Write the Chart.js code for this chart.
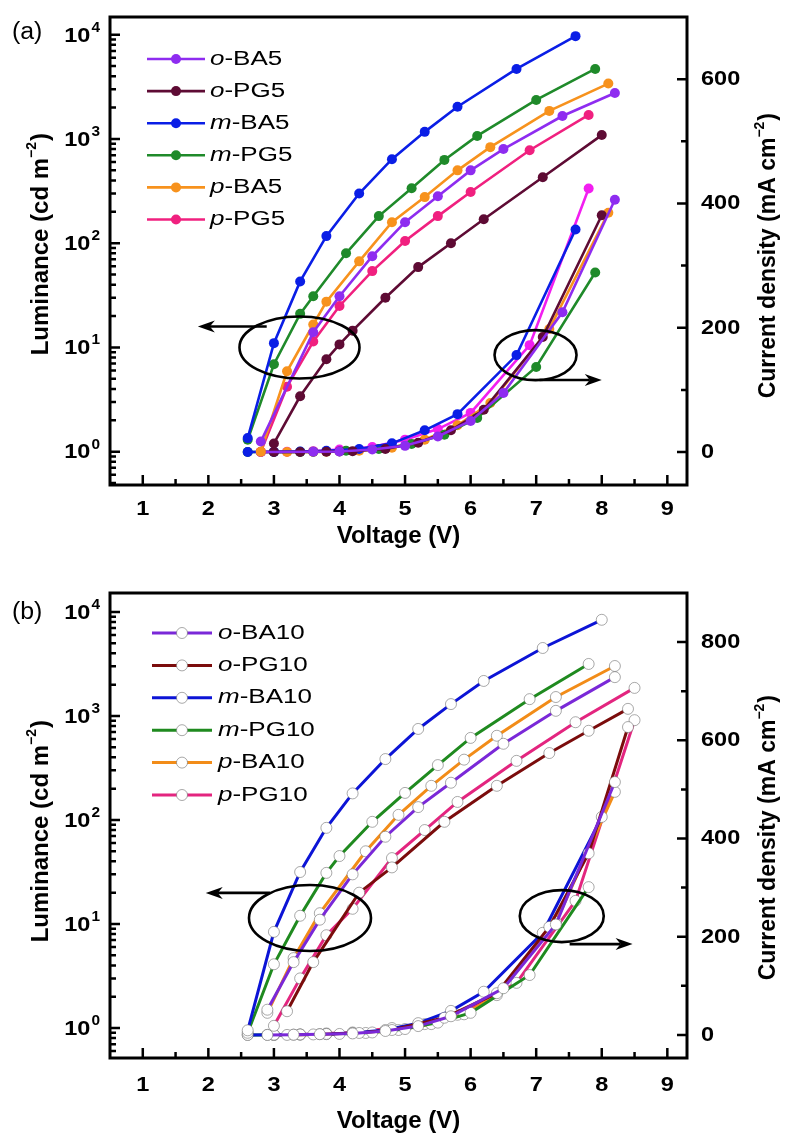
<!DOCTYPE html>
<html>
<head>
<meta charset="utf-8">
<script src="https://cdn.jsdelivr.net/npm/chart.js@4.4.1/dist/chart.umd.min.js"></script>
<style>
  body { margin: 0; background: #fff; }
  #wrap { position: relative; width: 788px; height: 1135px; }
  canvas { position: absolute; left: 0; }
  #chartA { top: 0; }
  #chartB { top: 567px; }
</style>
</head>
<body>
<div id="wrap">
  <canvas id="chartA" width="788" height="567"></canvas>
  <canvas id="chartB" width="788" height="568"></canvas>
</div>
<script>

// PANEL (a) DATA : voltage (V), luminance (cd m-2), current density (mA cm-2)

const namesA = ["o-BA5", "o-PG5", "m-BA5", "m-PG5", "p-BA5", "p-PG5"];

const voltA_oBA5 = [2.8, 3.6, 4.0, 4.5, 5.0, 5.5, 6.0, 6.5, 7.4, 8.2];
const lumA_oBA5  = [1.25, 14, 31, 75, 159, 282, 500, 800, 1660, 2760];
const curA_oBA5  = [0, 0.5, 1, 4, 10, 25, 50, 95, 225, 406];

const voltA_oPG5 = [3.0, 3.4, 3.8, 4.0, 4.2, 4.7, 5.2, 5.7, 6.2, 7.1, 8.0];
const lumA_oPG5  = [1.2, 3.4, 7.7, 10.7, 14.5, 30, 59, 100, 170, 430, 1090];
const curA_oPG5  = [0, 0, 0.5, 1, 1.5, 5, 15, 35, 68, 185, 381];

const voltA_mBA5 = [2.6, 3.0, 3.4, 3.8, 4.3, 4.8, 5.3, 5.8, 6.7, 7.6];
const lumA_mBA5  = [1.35, 11, 43, 117, 300, 640, 1170, 2040, 4700, 9700];
const curA_mBA5  = [0, 0.3, 0.8, 2, 5, 14, 35, 61, 156, 358];

const voltA_mPG5 = [2.6, 3.0, 3.4, 3.6, 4.1, 4.6, 5.1, 5.6, 6.1, 7.0, 7.9];
const lumA_mPG5  = [1.3, 6.9, 21, 31, 80, 182, 337, 630, 1070, 2370, 4700];
const curA_mPG5  = [0, 0, 0.3, 0.5, 2, 5, 13, 28, 55, 137, 289];

const voltA_pBA5 = [2.8, 3.2, 3.6, 3.8, 4.3, 4.8, 5.3, 5.8, 6.3, 7.2, 8.1];
const lumA_pBA5  = [1.0, 5.9, 16.6, 27.5, 67, 159, 277, 500, 835, 1860, 3400];
const curA_pBA5  = [0, 0, 0.3, 0.5, 2, 7, 20, 43, 79, 198, 385];

const voltA_pPG5 = [2.8, 3.2, 3.6, 4.0, 4.5, 5.0, 5.5, 6.0, 6.9, 7.8];
const lumA_pPG5  = [1.0, 4.2, 11.4, 25, 54, 105, 182, 310, 780, 1700];
const curA_pPG5  = [0, 0.5, 1.5, 4, 8, 20, 37, 63, 172, 424];


// PANEL (b) DATA

const namesB = ["o-BA10", "o-PG10", "m-BA10", "m-PG10", "p-BA10", "p-PG10"];

const voltB_oBA10 = [2.9, 3.3, 3.7, 4.2, 4.7, 5.2, 5.7, 6.5, 7.3, 8.2];
const lumB_oBA10  = [1.5, 4.3, 11, 30, 69, 133, 228, 540, 1120, 2360];
const curB_oBA10  = [0, 0.5, 1.5, 3, 8, 18, 38, 95, 225, 515];

const voltB_oPG10 = [3.2, 3.6, 4.3, 4.8, 5.6, 6.4, 7.2, 7.8, 8.4];
const lumB_oPG10  = [1.45, 4.3, 20, 35, 96, 213, 440, 720, 1170];
const curB_oPG10  = [0, 1, 4, 10, 35, 85, 220, 370, 627];

const voltB_mBA10 = [2.6, 3.0, 3.4, 3.8, 4.2, 4.7, 5.2, 5.7, 6.2, 7.1, 8.0];
const lumB_mBA10  = [0.95, 8.4, 31.6, 84, 180, 385, 750, 1300, 2170, 4500, 8400];
const curB_mBA10  = [0, 0.5, 1, 2, 4, 10, 24, 49, 88, 208, 444];

const voltB_mPG10 = [2.6, 3.0, 3.4, 3.8, 4.0, 4.5, 5.0, 5.5, 6.0, 6.9, 7.8];
const lumB_mPG10  = [0.9, 4.1, 12, 31, 45, 96, 182, 337, 615, 1450, 3160];
const curB_mPG10  = [0, 0, 0.5, 1.5, 2, 5, 12, 25, 45, 122, 301];

const voltB_pBA10 = [2.9, 3.3, 3.7, 4.4, 4.9, 5.4, 5.9, 6.4, 7.3, 8.2];
const lumB_pBA10  = [1.4, 4.7, 12.7, 50, 112, 213, 380, 645, 1520, 3020];
const curB_pBA10  = [0, 0.5, 1.5, 4, 10, 22, 42, 81, 230, 495];

const voltB_pPG10 = [3.0, 3.4, 3.8, 4.2, 4.8, 5.3, 5.8, 6.7, 7.6, 8.5];
const lumB_pPG10  = [1.05, 3.0, 7.8, 14, 43, 80, 149, 370, 870, 1860];
const curB_pPG10  = [0, 1, 3, 5, 14, 22, 41, 106, 273, 641];


// TICKS

const xMajor = [1, 2, 3, 4, 5, 6, 7, 8, 9];
const xMinor = [1.5, 2.5, 3.5, 4.5, 5.5, 6.5, 7.5, 8.5];
const lumExponents = [0, 1, 2, 3, 4];
const curMajorA = [0, 200, 400, 600];
const curMinorA = [100, 300, 500];
const curMajorB = [0, 200, 400, 600, 800];
const curMinorB = [100, 300, 500, 700];


// COLOURS

const lumColorsA = ["#8e2cf0", "#5e0b34", "#0a1ee6", "#1f8a2a", "#f7921d", "#f0207f"];
const curColorsA = ["#8e2cf0", "#5e0b34", "#0a1ee6", "#1f8a2a", "#f7921d", "#f21ef0"];
const colorsB    = ["#7a28d8", "#7b0c0c", "#0c14d6", "#1f8a1f", "#f28c18", "#e3257f"];

const FONT = "Arial, 'Liberation Sans', sans-serif";


// PANEL SETTINGS

const panels = {

  chartA: {
    tag: "(a)", names: namesA,
    volts: [voltA_oBA5, voltA_oPG5, voltA_mBA5, voltA_mPG5, voltA_pBA5, voltA_pPG5],
    lums:  [lumA_oBA5, lumA_oPG5, lumA_mBA5, lumA_mPG5, lumA_pBA5, lumA_pPG5],
    curs:  [curA_oBA5, curA_oPG5, curA_mBA5, curA_mPG5, curA_pBA5, curA_pPG5],
    lumColors: lumColorsA, curColors: curColorsA, open: false,
    lumMin: 0.479, lumMax: 14800, curMin: -53, curMax: 700,
    curMajor: curMajorA, curMinor: curMinorA,
    padTop: 17, xAxisH: 82,
    tagY: 33, xTickDy: 24, xTitleDy: 51,
    leftTitleEnd: 133, rightTitleEnd: 113,
    legend: { x1: 147, x2: 205, mx: 176, tx: 210, y0: 59, dy: 32.1 },
    ellipses: [
      { axis: "yL", x: 3.39, y: 10, rx: 60, ry: 31, ax1: 2.89, ax2: 1.84, ay: 15.9 },
      { axis: "yR", x: 6.99, y: 156, rx: 41, ry: 25, ax1: 7.05, ax2: 8.0, ay: 116 }
    ]
  },

  chartB: {
    tag: "(b)", names: namesB,
    volts: [voltB_oBA10, voltB_oPG10, voltB_mBA10, voltB_mPG10, voltB_pBA10, voltB_pPG10],
    lums:  [lumB_oBA10, lumB_oPG10, lumB_mBA10, lumB_mPG10, lumB_pBA10, lumB_pPG10],
    curs:  [curB_oBA10, curB_oPG10, curB_mBA10, curB_mPG10, curB_pBA10, curB_pPG10],
    lumColors: colorsB, curColors: colorsB, open: true,
    lumMin: 0.515, lumMax: 15200, curMin: -47, curMax: 900,
    curMajor: curMajorB, curMinor: curMinorB,
    padTop: 26, xAxisH: 77,
    tagY: 46, xTickDy: 27, xTitleDy: 63,
    leftTitleEnd: 153, rightTitleEnd: 128,
    legend: { x1: 152, x2: 212, mx: 182, tx: 218, y0: 66, dy: 32.4 },
    ellipses: [
      { axis: "yL", x: 3.55, y: 11.4, rx: 61, ry: 33, ax1: 2.94, ax2: 1.96, ay: 19.9 },
      { axis: "yR", x: 7.39, y: 242, rx: 42, ry: 26, ax1: 7.51, ax2: 8.47, ay: 185 }
    ]
  }

};


// HELPERS

function stretchText(ctx, text, x, y, sx, align) {
  const w = ctx.measureText(text).width * sx;
  let left = x;
  if (align === "center") left = x - w / 2;
  if (align === "right") left = x - w;
  ctx.save();
  ctx.translate(left, y);
  ctx.scale(sx, 1);
  ctx.textAlign = "left";
  ctx.fillText(text, 0, 0);
  ctx.restore();
  return w;
}

function markerStyle(color, open) {
  if (open) {
    return {
      pointRadius: 5.5,
      pointBackgroundColor: "#ffffff",
      pointBorderColor: "rgba(110,110,110,0.75)",
      pointBorderWidth: 0.8,
      borderWidth: 3
    };
  }
  return {
    pointRadius: 5,
    pointBackgroundColor: color,
    pointBorderWidth: 0,
    borderWidth: 2.6
  };
}

function buildDatasets(p) {
  const sets = [];
  p.volts.forEach((v, i) => {
    sets.push(Object.assign({
      label: p.names[i],
      data: v.map((x, k) => ({ x: x, y: p.lums[i][k] })),
      yAxisID: "yL",
      borderColor: p.lumColors[i],
      tension: 0
    }, markerStyle(p.lumColors[i], p.open)));
  });
  p.volts.forEach((v, i) => {
    sets.push(Object.assign({
      label: p.names[i] + " J",
      data: v.map((x, k) => ({ x: x, y: p.curs[i][k] })),
      yAxisID: "yR",
      borderColor: p.curColors[i],
      tension: 0
    }, markerStyle(p.curColors[i], p.open)));
  });
  return sets;
}

function drawTitle(ctx, cx, yEnd, main, size) {
  ctx.save();
  ctx.translate(cx, yEnd);
  ctx.rotate(-Math.PI / 2);
  ctx.textBaseline = "middle";
  ctx.font = "bold " + size + "px " + FONT;
  const w1 = ctx.measureText(main).width;
  const w3 = ctx.measureText(")").width;
  ctx.font = "bold 14px " + FONT;
  const w2 = ctx.measureText("\u22122").width;
  let x = -(w1 + w2 + w3 + 1);
  ctx.textAlign = "left";
  ctx.font = "bold " + size + "px " + FONT;
  ctx.fillText(main, x, 0);
  x += w1;
  ctx.font = "bold 14px " + FONT;
  ctx.fillText("\u22122", x, -9);
  x += w2 + 1;
  ctx.font = "bold " + size + "px " + FONT;
  ctx.fillText(")", x, 0);
  ctx.restore();
}

function drawArrow(ctx, x1, x2, y) {
  const d = x2 > x1 ? -1 : 1;
  ctx.beginPath();
  ctx.moveTo(x1, y);
  ctx.lineTo(x2 + d * 12, y);
  ctx.stroke();
  ctx.beginPath();
  ctx.moveTo(x2, y);
  ctx.lineTo(x2 + d * 17, y - 6);
  ctx.lineTo(x2 + d * 12, y);
  ctx.lineTo(x2 + d * 17, y + 6);
  ctx.closePath();
  ctx.fill();
}


// DECORATION PLUGIN : frame, inward ticks, labels, titles, legend, ellipses

const decorPlugin = {
  id: "decor",
  afterDatasetsDraw(chart) {
    const p = panels[chart.canvas.id];
    const ctx = chart.ctx;
    const a = chart.chartArea;
    const sx = chart.scales.x;
    const sl = chart.scales.yL;
    const sr = chart.scales.yR;

    ctx.save();
    ctx.fillStyle = "#000";
    ctx.strokeStyle = "#000";

    // FRAME
    ctx.lineWidth = 3;
    ctx.strokeRect(a.left, a.top, a.right - a.left, a.bottom - a.top);

    // TICKS
    ctx.lineWidth = 2.5;
    ctx.beginPath();
    xMajor.forEach(v => {
      const px = sx.getPixelForValue(v);
      ctx.moveTo(px, a.bottom); ctx.lineTo(px, a.bottom - 10);
    });
    xMinor.forEach(v => {
      const px = sx.getPixelForValue(v);
      ctx.moveTo(px, a.bottom); ctx.lineTo(px, a.bottom - 6);
    });
    lumExponents.forEach(e => {
      const py = sl.getPixelForValue(Math.pow(10, e));
      ctx.moveTo(a.left, py); ctx.lineTo(a.left + 10, py);
    });
    for (let e = -1; e <= 4; e++) {
      for (let k = 2; k <= 9; k++) {
        const val = k * Math.pow(10, e);
        if (val < p.lumMin || val > p.lumMax) continue;
        const py = sl.getPixelForValue(val);
        ctx.moveTo(a.left, py); ctx.lineTo(a.left + 6, py);
      }
    }
    p.curMajor.forEach(v => {
      const py = sr.getPixelForValue(v);
      ctx.moveTo(a.right, py); ctx.lineTo(a.right - 10, py);
    });
    p.curMinor.forEach(v => {
      const py = sr.getPixelForValue(v);
      ctx.moveTo(a.right, py); ctx.lineTo(a.right - 6, py);
    });
    ctx.stroke();

    // TICK LABELS
    ctx.textBaseline = "middle";
    ctx.font = "bold 21px " + FONT;
    xMajor.forEach(v => {
      stretchText(ctx, String(v), sx.getPixelForValue(v), a.bottom + p.xTickDy, 1.12, "center");
    });
    p.curMajor.forEach(v => {
      stretchText(ctx, String(v), a.right + 14, sr.getPixelForValue(v), 1.12, "left");
    });
    lumExponents.forEach(e => {
      const py = sl.getPixelForValue(Math.pow(10, e));
      ctx.font = "bold 14px " + FONT;
      const ws = stretchText(ctx, String(e), a.left - 10, py - 7, 1.1, "right");
      ctx.font = "bold 21px " + FONT;
      stretchText(ctx, "10", a.left - 11 - ws, py + 1, 1.12, "right");
    });

    // AXIS TITLES
    ctx.font = "bold 24px " + FONT;
    stretchText(ctx, "Voltage (V)", (a.left + a.right) / 2, a.bottom + p.xTitleDy, 1.0, "center");
    drawTitle(ctx, 41, p.leftTitleEnd, "Luminance (cd m", 24);
    drawTitle(ctx, 769, p.rightTitleEnd, "Current density (mA cm", 23);

    // PANEL TAG
    ctx.font = "23px " + FONT;
    stretchText(ctx, p.tag, 12, p.tagY, 1.08, "left");

    // LEGEND
    const L = p.legend;
    p.names.forEach((name, i) => {
      const y = L.y0 + i * L.dy;
      ctx.strokeStyle = p.lumColors[i];
      ctx.lineWidth = p.open ? 3 : 2.6;
      ctx.beginPath(); ctx.moveTo(L.x1, y); ctx.lineTo(L.x2, y); ctx.stroke();
      ctx.beginPath(); ctx.arc(L.mx, y, p.open ? 5.5 : 5, 0, Math.PI * 2);
      if (p.open) {
        ctx.fillStyle = "#fff"; ctx.fill();
        ctx.strokeStyle = "rgba(110,110,110,0.75)"; ctx.lineWidth = 0.8; ctx.stroke();
      } else {
        ctx.fillStyle = p.lumColors[i]; ctx.fill();
      }
      ctx.fillStyle = "#000";
      ctx.font = "italic 20px " + FONT;
      const w = stretchText(ctx, name.charAt(0), L.tx, y, 1.3, "left");
      ctx.font = "20px " + FONT;
      stretchText(ctx, name.slice(1), L.tx + w, y, 1.3, "left");
    });

    // ELLIPSES AND ARROWS
    ctx.strokeStyle = "#000";
    ctx.fillStyle = "#000";
    ctx.lineWidth = 2.6;
    p.ellipses.forEach(el => {
      const sy = chart.scales[el.axis];
      ctx.beginPath();
      ctx.ellipse(sx.getPixelForValue(el.x), sy.getPixelForValue(el.y), el.rx, el.ry, 0, 0, Math.PI * 2);
      ctx.stroke();
      drawArrow(ctx, sx.getPixelForValue(el.ax1), sx.getPixelForValue(el.ax2), sy.getPixelForValue(el.ay));
    });

    ctx.restore();
  }
};


// CHARTS

function makeChart(id) {
  const p = panels[id];
  return new Chart(document.getElementById(id), {
    type: "line",
    data: { datasets: buildDatasets(p) },
    options: {
      responsive: false,
      animation: false,
      events: [],
      layout: { autoPadding: false, padding: { top: p.padTop, left: 0, right: 0, bottom: 0 } },
      plugins: { legend: { display: false }, tooltip: { enabled: false } },
      scales: {
        x: {
          type: "linear", min: 0.5, max: 9.3,
          ticks: { display: false }, grid: { display: false }, border: { display: false },
          afterFit: s => { s.height = p.xAxisH; }
        },
        yL: {
          type: "logarithmic", position: "left", min: p.lumMin, max: p.lumMax,
          ticks: { display: false }, grid: { display: false }, border: { display: false },
          afterFit: s => { s.width = 110; }
        },
        yR: {
          type: "linear", position: "right", min: p.curMin, max: p.curMax,
          ticks: { display: false }, grid: { display: false }, border: { display: false },
          afterFit: s => { s.width = 101; }
        }
      }
    },
    plugins: [decorPlugin]
  });
}

makeChart("chartA");
makeChart("chartB");

</script>
</body>
</html>
